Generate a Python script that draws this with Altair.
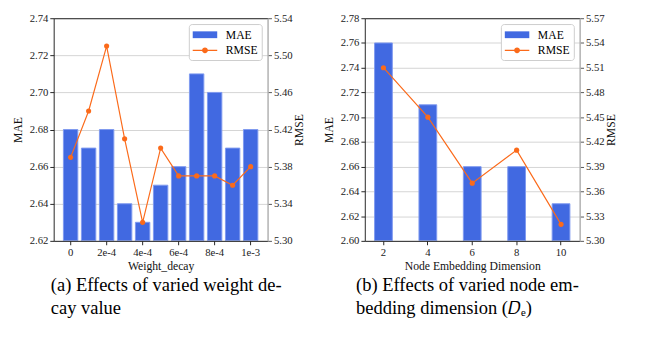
import altair as alt
import pandas as pd

# ---- data ----
wd_cats = ["0", "1e-4", "2e-4", "3e-4", "4e-4", "5e-4", "6e-4", "7e-4", "8e-4", "9e-4", "1e-3"]
wd_labels = ["0", "2e-4", "4e-4", "6e-4", "8e-4", "1e-3"]
wd_mae = [2.68, 2.67, 2.68, 2.64, 2.63, 2.65, 2.66, 2.71, 2.70, 2.67, 2.68]
wd_rmse = [5.39, 5.44, 5.51, 5.41, 5.32, 5.40, 5.37, 5.37, 5.37, 5.36, 5.38]
wd_mae_ticks = [2.62, 2.64, 2.66, 2.68, 2.70, 2.72, 2.74]
wd_rmse_ticks = [5.30, 5.34, 5.38, 5.42, 5.46, 5.50, 5.54]

ne_cats = ["2", "4", "6", "8", "10"]
ne_mae = [2.76, 2.71, 2.66, 2.66, 2.63]
ne_rmse = [5.51, 5.45, 5.37, 5.41, 5.32]
ne_mae_ticks = [2.60, 2.62, 2.64, 2.66, 2.68, 2.70, 2.72, 2.74, 2.76, 2.78]
ne_rmse_ticks = [5.30, 5.33, 5.36, 5.39, 5.42, 5.45, 5.48, 5.51, 5.54, 5.57]

series = ["MAE", "RMSE"]
caption_a = ["(a) Effects of varied weight de-", "cay value"]
caption_b = ["(b) Effects of varied node em-", "bedding dimension (\U0001D437\u2091)"]

BLUE = "#4169e1"
EDGE = "#7f9af0"
ORANGE = "#fb6a1a"
SERIF = "Liberation Serif"
PATH_MAE = "M-1,-0.5H2.6V0.5H-1Z"
PATH_RMSE = ("M-1,-0.1H2.6V0.1H-1Z "
             "M1.23,0C1.23,0.2375 1.0375,0.43 0.8,0.43"
             "C0.5625,0.43 0.37,0.2375 0.37,0"
             "C0.37,-0.2375 0.5625,-0.43 0.8,-0.43"
             "C1.0375,-0.43 1.23,-0.2375 1.23,0Z")


def panel(cats, mae, rmse, mae_ticks, rmse_ticks, xtitle, xvalues,
          pin, pout, width):
    df = pd.DataFrame({"cat": cats, "MAE": mae, "RMSE": rmse})
    xscale = alt.Scale(domain=cats, paddingInner=pin, paddingOuter=pout)
    bars = alt.Chart(df).mark_bar(color=BLUE, stroke=EDGE, strokeWidth=1, clip=True).encode(
        x=alt.X("cat:N", sort=cats, scale=xscale,
                axis=alt.Axis(title=xtitle, values=xvalues, labelAngle=0,
                              orient="bottom", zindex=1, domainColor="#222222",
                              tickColor="#222222", titlePadding=3)),
        y=alt.Y("MAE:Q",
                scale=alt.Scale(domain=[mae_ticks[0], mae_ticks[-1]], zero=False, nice=False),
                axis=alt.Axis(title="MAE", values=mae_ticks, format=".2f", grid=True,
                              gridColor="#d4d4d4", zindex=0, domainColor="#222222",
                              tickColor="#222222", titlePadding=5)),
        y2=alt.datum(mae_ticks[0]),
    )
    line = alt.Chart(df).mark_line(
        color=ORANGE, strokeWidth=1.2,
        point=alt.OverlayMarkDef(filled=True, size=28, color=ORANGE),
    ).encode(
        x=alt.X("cat:N", sort=cats, scale=xscale,
                axis=alt.Axis(orient="top", labels=False, ticks=False, title=None,
                              domainColor="#222222", zindex=1)),
        y=alt.Y("RMSE:Q",
                scale=alt.Scale(domain=[rmse_ticks[0], rmse_ticks[-1]], zero=False, nice=False),
                axis=alt.Axis(orient="right", title="RMSE", titleAngle=270,
                              titleBaseline="top", values=rmse_ticks,
                              format=".2f", domainColor="#b0b0b0", domainWidth=1.5,
                              tickColor="#555555", zindex=1, titlePadding=2)),
    )
    leg_legend = alt.Legend(
        title=None, orient="top-right", offset=6, symbolSize=196, labelOffset=20,
        padding=4, rowPadding=3, strokeColor="#cccccc", fillColor="white",
        cornerRadius=3, labelFont=SERIF, labelFontSize=12, labelColor="black",
        symbolOpacity=1, symbolStrokeWidth=0,
    )
    leg = alt.Chart(pd.DataFrame({"s": series})).transform_filter("false").mark_point(
        filled=True, opacity=1
    ).encode(
        color=alt.Color("s:N", scale=alt.Scale(domain=series, range=[BLUE, ORANGE]),
                        legend=leg_legend),
        shape=alt.Shape("s:N", scale=alt.Scale(domain=series, range=[PATH_MAE, PATH_RMSE]),
                        legend=leg_legend),
    )
    return alt.layer(bars, line, leg).resolve_scale(y="independent").resolve_axis(
        x="independent"
    ).properties(width=width, height=229)


def caption(lines, width, dx):
    return alt.Chart(pd.DataFrame({"t": [lines]})).mark_text(
        align="left", baseline="top", font=SERIF, fontSize=19, lineHeight=23,
        color="black",
    ).encode(text="t", x=alt.value(dx), y=alt.value(0)).properties(width=width, height=44)


left = panel(wd_cats, wd_mae, wd_rmse, wd_mae_ticks, wd_rmse_ticks, "Weight_decay",
             wd_labels, 0.2, 0.54, 220)
right = panel(ne_cats, ne_mae, ne_rmse, ne_mae_ticks, ne_rmse_ticks,
              "Node Embedding Dimension", ne_cats, 0.6, 0.22, 221)

top_row = alt.hconcat(left, right, spacing=17).resolve_scale(
    color="independent", shape="independent"
).resolve_legend(color="independent", shape="independent")
bottom_row = alt.hconcat(caption(caption_a, 300, -3), caption(caption_b, 290, 0), spacing=11)

chart = alt.vconcat(top_row, bottom_row, spacing=6).resolve_scale(
    color="independent", shape="independent"
).resolve_legend(color="independent", shape="independent").properties(
    padding={"left": 3, "top": 0, "right": 0, "bottom": 0}
).configure_view(stroke=None).configure_axis(
    labelFont=SERIF, titleFont=SERIF, labelFontSize=11, titleFontSize=12,
    titleFontWeight="normal", labelColor="#222222", titleColor="#111111",
    tickSize=4, labelPadding=2, grid=False,
)

chart.save("out.html", embed_options={"renderer": "svg", "actions": False})
